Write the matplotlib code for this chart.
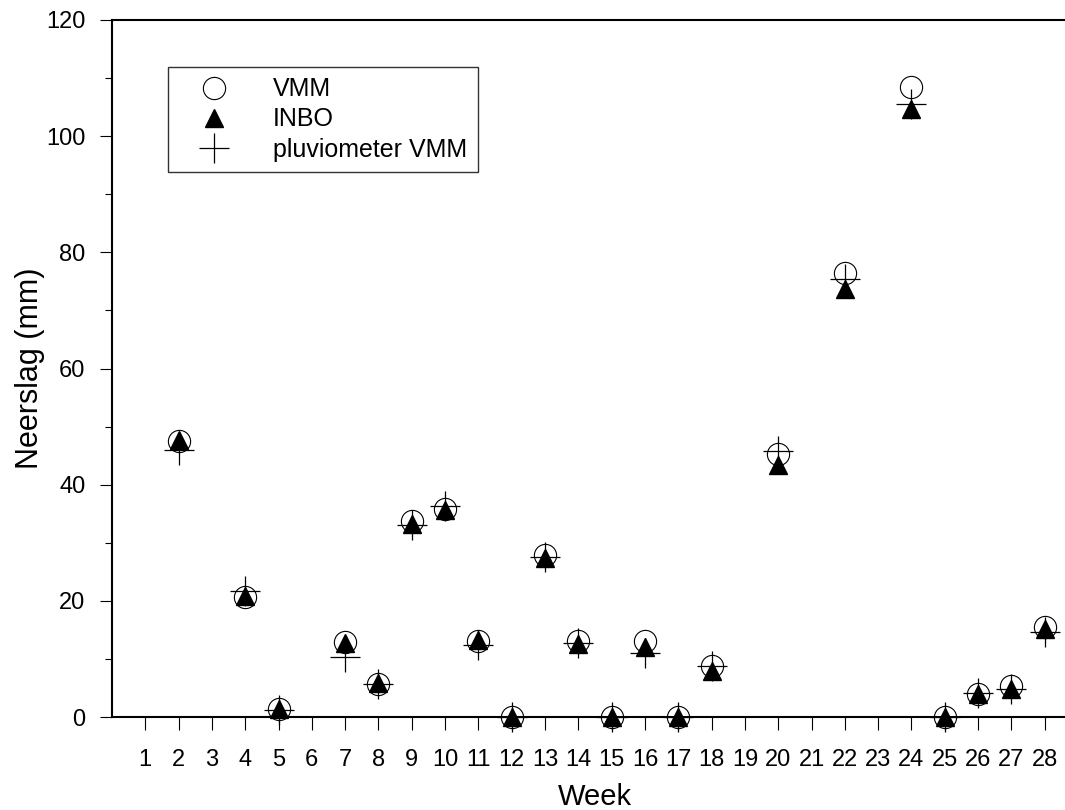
import matplotlib.pyplot as plt
import numpy as np

plt.rcParams['font.family'] = ['Liberation Sans', 'DejaVu Sans']

# Weekly precipitation, three measurement sources
weeks = [2, 4, 5, 7, 8, 9, 10, 11, 12, 13, 14, 15, 16, 17, 18, 20, 22, 24, 25, 26, 27, 28]
vmm = [47.6, 20.7, 1.3, 12.9, 5.7, 33.7, 35.8, 13.1, 0.0, 27.9, 13.0, 0.0,
       13.1, 0.0, 8.7, 45.2, 76.4, 108.4, 0.0, 3.9, 5.4, 15.5]
inbo = [47.7, 20.9, 1.3, 12.7, 5.9, 33.3, 35.6, 13.2, 0.0, 27.3, 12.6, 0.0,
        12.0, 0.0, 8.0, 43.3, 73.7, 104.7, 0.0, 3.9, 4.8, 15.2]
pluvio = [46.0, 21.7, 1.2, 10.4, 5.7, 33.1, 36.3, 12.4, 0.0, 27.5, 12.8, 0.0,
          11.0, 0.0, 8.7, 45.8, 75.4, 105.5, 0.0, 4.1, 4.8, 14.6]
week_ticks = list(range(1, 29))

fig = plt.figure(figsize=(10.65, 8.1), dpi=100)
ax = fig.add_axes([112 / 1065, 93 / 810, 966 / 1065, 697 / 810])

ax.plot(weeks, vmm, linestyle='none', marker='o', markersize=16,
        markerfacecolor='none', markeredgecolor='black', markeredgewidth=0.8,
        label='VMM', clip_on=False, zorder=3)
ax.plot(weeks, inbo, linestyle='none', marker='^', markersize=13,
        color='black', label='INBO', clip_on=False, zorder=4)
ax.plot(weeks, pluvio, linestyle='none', marker='+', markersize=21,
        markeredgewidth=0.9, color='black', label='pluviometer VMM',
        clip_on=False, zorder=5)

ax.set_xlim(0, 29)
ax.set_ylim(0, 120)
ax.set_xticks(week_ticks)
ax.set_yticks(np.arange(0, 121, 20))
ax.set_yticks(np.arange(10, 120, 20), minor=True)

for side in ['left', 'bottom', 'top']:
    ax.spines[side].set_linewidth(1.5)
ax.spines['right'].set_visible(False)

ax.tick_params(axis='both', which='major', direction='out', length=9,
               width=0.8, labelsize=17)
ax.tick_params(axis='y', which='minor', direction='out', length=5, width=0.8)
ax.tick_params(axis='x', pad=14)
ax.tick_params(axis='y', pad=10)

ax.set_xlabel('Week', fontsize=21, labelpad=9)
ax.set_ylabel('Neerslag (mm)', fontsize=22, labelpad=1)

leg = ax.legend(loc='upper left', bbox_to_anchor=(168 / 1065, 1 - 67 / 810),
                bbox_transform=fig.transFigure, borderaxespad=0,
                fontsize=18, frameon=True, fancybox=False, borderpad=0.42,
                handlelength=2.85, handletextpad=0.93, labelspacing=0.24,
                numpoints=1)
leg.get_frame().set_edgecolor('black')
leg.get_frame().set_linewidth(1.0)

fig.savefig('out.png', dpi=100)
